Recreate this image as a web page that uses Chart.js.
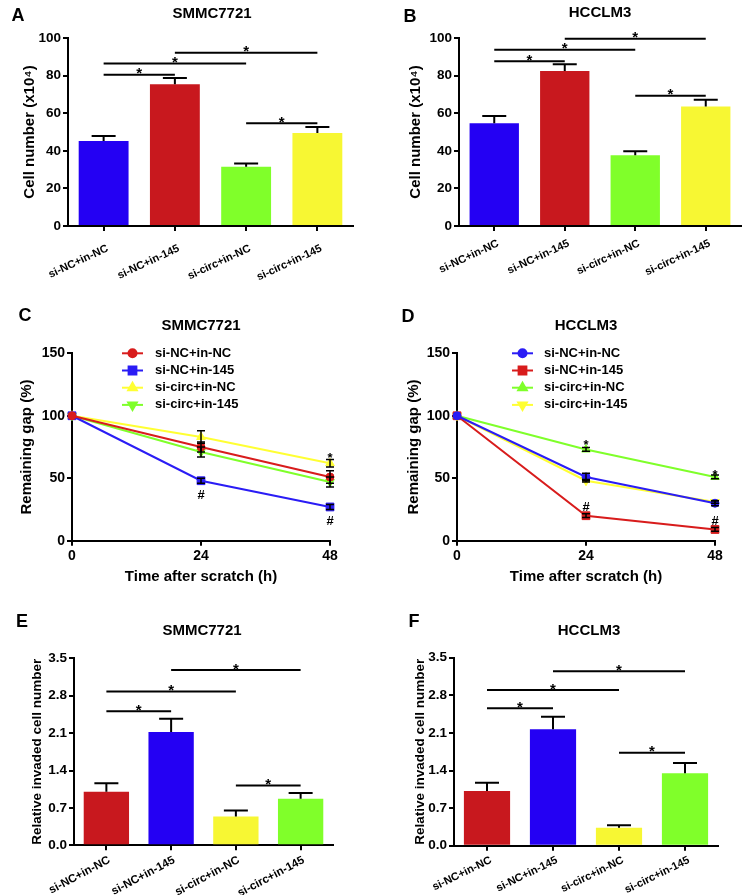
<!DOCTYPE html>
<html lang="en">
<head>
<meta charset="UTF-8">
<title>circRNA knockdown and miR-145 inhibition</title>
<script src="https://cdn.jsdelivr.net/npm/chart.js"></script>
<style>
  body { margin: 0; background: #fff; font-family: 'Liberation Sans', Arial, sans-serif; }
  .fig { position: relative; width: 744px; height: 895px; }
  .panel { position: absolute; }
  .tag, .ttl {
    position: absolute; font-weight: bold; line-height: 1; color: #000;
    transform: translate(-50%, -50%); white-space: nowrap;
  }
  .tag { font-size: 18px; }
  .ttl { font-size: 15px; }
</style>
</head>
<body>
<div class="fig">
  <canvas id="chartA" class="panel" width="372" height="290" style="left:0;top:0"></canvas>
  <canvas id="chartB" class="panel" width="372" height="290" style="left:372px;top:0"></canvas>
  <canvas id="chartC" class="panel" width="372" height="300" style="left:0;top:290px"></canvas>
  <canvas id="chartD" class="panel" width="372" height="300" style="left:372px;top:290px"></canvas>
  <canvas id="chartE" class="panel" width="372" height="305" style="left:0;top:590px"></canvas>
  <canvas id="chartF" class="panel" width="372" height="305" style="left:372px;top:590px"></canvas>

  <div class="tag" style="left:18px;top:15px">A</div>
  <div class="ttl" style="left:212px;top:12px">SMMC7721</div>
  <div class="tag" style="left:410px;top:16px">B</div>
  <div class="ttl" style="left:600px;top:11px">HCCLM3</div>
  <div class="tag" style="left:25px;top:315px">C</div>
  <div class="ttl" style="left:201px;top:324px">SMMC7721</div>
  <div class="tag" style="left:408px;top:316px">D</div>
  <div class="ttl" style="left:586px;top:324px">HCCLM3</div>
  <div class="tag" style="left:22px;top:621px">E</div>
  <div class="ttl" style="left:202px;top:629px">SMMC7721</div>
  <div class="tag" style="left:414px;top:621px">F</div>
  <div class="ttl" style="left:589px;top:629px">HCCLM3</div>
</div>

<script>
  const groups = ['si-NC+in-NC', 'si-NC+in-145', 'si-circ+in-NC', 'si-circ+in-145'];

  // A / B: cell number (x10^4), mean and upper error
  const countSmmc = [45.2, 75.4, 31.5, 49.5];
  const countSmmcErr = [2.7, 3.3, 1.8, 3.2];
  const countSmmcSig = [[0, 1, 80.5], [0, 2, 86.5], [1, 3, 92.2], [2, 3, 54.6]];
  const countHcc = [54.6, 82.4, 37.6, 63.5];
  const countHccErr = [3.9, 3.6, 2.1, 3.7];
  const countHccSig = [[0, 1, 87.6], [0, 2, 93.8], [1, 3, 99.6], [2, 3, 69.3]];

  // C / D: remaining gap (%) after scratch
  const hours = [0, 24, 48];
  const gapSmmcNcNc = [100, 75, 51];
  const gapSmmcNcNcErr = [0, 4, 5];
  const gapSmmcNc145 = [100, 48, 27];
  const gapSmmcNc145Err = [0, 2, 2];
  const gapSmmcCircNc = [100, 83, 62];
  const gapSmmcCircNcErr = [0, 5, 3];
  const gapSmmcCirc145 = [100, 71, 47];
  const gapSmmcCirc145Err = [0, 4, 4];
  const gapSmmcMarks = [[24, 37.4, '#'], [48, 16.6, '#'], [48, 69.4, '*']];

  const gapHccNcNc = [100, 51, 30];
  const gapHccNcNcErr = [0, 3, 2];
  const gapHccNc145 = [100, 20, 9];
  const gapHccNc145Err = [0, 1.5, 1.5];
  const gapHccCircNc = [100, 73, 51];
  const gapHccCircNcErr = [0, 1.5, 1.5];
  const gapHccCirc145 = [100, 48, 31];
  const gapHccCirc145Err = [0, 1, 1];
  const gapHccMarks = [[24, 79.3, '*'], [48, 55.8, '*'], [24, 27.8, '#'], [48, 16, '#']];

  // E / F: relative invaded cell number
  const invSmmc = [1.0, 2.12, 0.54, 0.87];
  const invSmmcErr = [0.16, 0.25, 0.11, 0.11];
  const invSmmcSig = [[0, 1, 2.51], [0, 2, 2.88], [1, 3, 3.28], [2, 3, 1.12]];
  const invHcc = [1.02, 2.17, 0.335, 1.35];
  const invHccErr = [0.15, 0.23, 0.045, 0.19];
  const invHccSig = [[0, 1, 2.56], [0, 2, 2.9], [1, 3, 3.25], [2, 3, 1.73]];

  const BLUE = '#2400f3', RED = '#c8181e', GREEN = '#80ff2a', YELLOW = '#f7f733';
  const LBLUE = '#2a1cf5', LRED = '#d81c1c', LGREEN = '#7fff2a', LYELLOW = '#ffff33';
  const FONT = "'Liberation Sans', Arial, sans-serif";

  Chart.defaults.font.family = FONT;
  Chart.defaults.color = '#000';

  // glyph centre offset (em) above the baseline
  const glyphMid = { '*': 0.58, '#': 0.36 };

  const extras = {
    id: 'extras',
    afterDatasetsDraw(chart, args, o) {
      const ctx = chart.ctx, xs = chart.scales.x, ys = chart.scales.y;
      ctx.save();
      ctx.strokeStyle = '#000';
      ctx.fillStyle = '#000';
      ctx.textAlign = 'center';
      ctx.textBaseline = 'alphabetic';

      // bar error bars (upper half only)
      if (o.errors) {
        const vals = chart.data.datasets[0].data;
        ctx.lineWidth = 2;
        o.errors.forEach((e, i) => {
          const x = xs.getPixelForValue(i);
          const y0 = ys.getPixelForValue(vals[i]);
          const y1 = ys.getPixelForValue(vals[i] + e);
          ctx.beginPath();
          ctx.moveTo(x, y0); ctx.lineTo(x, y1);
          ctx.moveTo(x - o.cap, y1); ctx.lineTo(x + o.cap, y1);
          ctx.stroke();
        });
      }

      // line chart error bars (both sides)
      chart.data.datasets.forEach(ds => {
        if (!ds.errors) return;
        ctx.lineWidth = 1.5;
        ds.data.forEach((p, i) => {
          const e = ds.errors[i];
          if (!e) return;
          const x = xs.getPixelForValue(p.x);
          const yt = ys.getPixelForValue(p.y + e), yb = ys.getPixelForValue(p.y - e);
          ctx.beginPath();
          ctx.moveTo(x, yt); ctx.lineTo(x, yb);
          ctx.moveTo(x - 4, yt); ctx.lineTo(x + 4, yt);
          ctx.moveTo(x - 4, yb); ctx.lineTo(x + 4, yb);
          ctx.stroke();
        });
      });

      // significance brackets
      if (o.sig) {
        ctx.lineWidth = 2;
        ctx.font = 'bold 15px ' + FONT;
        o.sig.forEach(([a, b, v]) => {
          const xa = xs.getPixelForValue(a), xb = xs.getPixelForValue(b);
          const y = ys.getPixelForValue(v);
          ctx.beginPath();
          ctx.moveTo(xa, y); ctx.lineTo(xb, y);
          ctx.stroke();
          ctx.fillText('*', (xa + xb) / 2, y - 5 + 0.58 * 15);
        });
      }

      // point annotations
      if (o.marks) {
        ctx.font = 'bold 13px ' + FONT;
        o.marks.forEach(([xv, v, s]) => {
          ctx.fillText(s, xs.getPixelForValue(xv), ys.getPixelForValue(v) + glyphMid[s] * 13);
        });
      }

      // legend with line + marker
      if (o.key) {
        const k = o.key;
        ctx.font = 'bold 13px ' + FONT;
        ctx.textAlign = 'left';
        ctx.textBaseline = 'middle';
        chart.data.datasets.forEach((ds, i) => {
          const y = k.top + i * k.step;
          ctx.strokeStyle = ds.borderColor;
          ctx.fillStyle = ds.backgroundColor;
          ctx.lineWidth = 2;
          ctx.beginPath();
          ctx.moveTo(k.x, y); ctx.lineTo(k.x + k.len, y);
          ctx.stroke();
          Chart.helpers.drawPoint(ctx, {
            pointStyle: ds.pointStyle, rotation: ds.pointRotation || 0,
            radius: ds.pointRadius, borderWidth: 1
          }, k.x + k.len / 2, y);
          ctx.fillStyle = '#000';
          ctx.fillText(ds.label, k.x + k.len + k.gap, y);
        });
      }
      ctx.restore();
    }
  };

  function axisStyle(size) {
    return {
      border: { display: true, color: '#000', width: 2 },
      grid: { drawOnChartArea: false, color: '#000', lineWidth: 2, tickLength: 5, offset: false },
      ticks: { color: '#000', font: { size: size, weight: 'bold' }, padding: 2 }
    };
  }

  function barChart(id, colors, values, errors, sig, cfg) {
    const cv = document.getElementById(id);
    const xAxis = axisStyle(cfg.xFont);
    Object.assign(xAxis.ticks, {
      minRotation: cfg.rot, maxRotation: cfg.rot, autoSkip: false,
      padding: cfg.xPad, labelOffset: cfg.xShift
    });
    xAxis.afterFit = s => { s.height = cv.height - cfg.bottom; };
    const yAxis = axisStyle(13.5);
    Object.assign(yAxis, { min: 0, max: cfg.max });
    Object.assign(yAxis.ticks, { stepSize: cfg.step, callback: v => cfg.dec ? v.toFixed(1) : v });
    yAxis.title = {
      display: true, text: cfg.yTitle, color: '#000',
      font: { size: cfg.yTitleSize, weight: 'bold' },
      padding: { top: cfg.yTitleX - cfg.yTitleSize * 0.6, bottom: 0 }
    };
    yAxis.afterFit = s => { s.width = cfg.left; };

    new Chart(cv, {
      type: 'bar',
      data: {
        labels: groups,
        datasets: [{ data: values, backgroundColor: colors, borderWidth: 0, categoryPercentage: 1, barPercentage: 0.7 }]
      },
      options: {
        responsive: false, animation: false, devicePixelRatio: 1,
        layout: { padding: { left: 0, top: cfg.top, right: cv.width - cfg.right, bottom: 0 } },
        plugins: {
          legend: { display: false }, tooltip: { enabled: false },
          extras: { errors: errors, sig: sig, cap: 12 }
        },
        scales: { x: xAxis, y: yAxis }
      },
      plugins: [extras]
    });
  }

  function lineChart(id, series, marks, cfg) {
    const cv = document.getElementById(id);
    const xAxis = axisStyle(14);
    Object.assign(xAxis, { type: 'linear', min: 0, max: 48 });
    Object.assign(xAxis.ticks, { stepSize: 24, padding: 2 });
    xAxis.title = {
      display: true, text: 'Time after scratch (h)', color: '#000',
      font: { size: 15, weight: 'bold' }, padding: { top: 0, bottom: 4 }
    };
    xAxis.afterFit = s => { s.height = cv.height - cfg.bottom; };
    const yAxis = axisStyle(14);
    Object.assign(yAxis, { min: 0, max: 150 });
    Object.assign(yAxis.ticks, { stepSize: 50 });
    yAxis.title = {
      display: true, text: 'Remaining gap (%)', color: '#000',
      font: { size: 15, weight: 'bold' }, padding: { top: cfg.yTitleX - 9, bottom: 0 }
    };
    yAxis.afterFit = s => { s.width = cfg.left; };

    const datasets = series.map(s => ({
      label: s.label,
      data: hours.map((h, i) => ({ x: h, y: s.values[i] })),
      errors: s.errors,
      borderColor: s.color, backgroundColor: s.color,
      borderWidth: 2, pointStyle: s.style, pointRotation: s.rotation || 0,
      pointRadius: s.radius, pointBorderWidth: 1, tension: 0, clip: false
    }));

    new Chart(cv, {
      type: 'line',
      data: { datasets },
      options: {
        responsive: false, animation: false, devicePixelRatio: 1,
        layout: { padding: { left: 0, top: cfg.top, right: cv.width - cfg.right, bottom: 0 } },
        plugins: {
          legend: { display: false }, tooltip: { enabled: false },
          extras: { marks: marks, key: cfg.key }
        },
        scales: { x: xAxis, y: yAxis }
      },
      plugins: [extras]
    });
  }

  const countTitle = 'Cell number (x10\u2074)';
  barChart('chartA', [BLUE, RED, GREEN, YELLOW], countSmmc, countSmmcErr, countSmmcSig,
    { left: 68, right: 353, top: 38, bottom: 226, max: 100, step: 20, yTitle: countTitle, yTitleSize: 15, yTitleX: 30,
      xFont: 11, rot: 25, xPad: 11, xShift: 4 });
  barChart('chartB', [BLUE, RED, GREEN, YELLOW], countHcc, countHccErr, countHccSig,
    { left: 87, right: 369, top: 38, bottom: 226, max: 100, step: 20, yTitle: countTitle, yTitleSize: 15, yTitleX: 43.5,
      xFont: 11, rot: 25, xPad: 6, xShift: 4 });

  lineChart('chartC', [
    { label: 'si-NC+in-NC', values: gapSmmcNcNc, errors: gapSmmcNcNcErr, color: LRED, style: 'circle', radius: 4 },
    { label: 'si-NC+in-145', values: gapSmmcNc145, errors: gapSmmcNc145Err, color: LBLUE, style: 'rect', radius: 5.5 },
    { label: 'si-circ+in-NC', values: gapSmmcCircNc, errors: gapSmmcCircNcErr, color: LYELLOW, style: 'triangle', radius: 5 },
    { label: 'si-circ+in-145', values: gapSmmcCirc145, errors: gapSmmcCirc145Err, color: LGREEN, style: 'triangle', rotation: 180, radius: 5 }
  ], gapSmmcMarks, { left: 72, right: 330, top: 63.3, bottom: 250.7, yTitleX: 27, key: { x: 122, top: 63.3, step: 17.2, len: 21, gap: 12 } });

  lineChart('chartD', [
    { label: 'si-NC+in-NC', values: gapHccNcNc, errors: gapHccNcNcErr, color: LBLUE, style: 'circle', radius: 4 },
    { label: 'si-NC+in-145', values: gapHccNc145, errors: gapHccNc145Err, color: LRED, style: 'rect', radius: 5.5 },
    { label: 'si-circ+in-NC', values: gapHccCircNc, errors: gapHccCircNcErr, color: LGREEN, style: 'triangle', radius: 5 },
    { label: 'si-circ+in-145', values: gapHccCirc145, errors: gapHccCirc145Err, color: LYELLOW, style: 'triangle', rotation: 180, radius: 5 }
  ], gapHccMarks, { left: 85, right: 343, top: 63.3, bottom: 250.7, yTitleX: 41.5, key: { x: 140, top: 63.3, step: 17.2, len: 21, gap: 11 } });

  const invTitle = 'Relative invaded cell number';
  barChart('chartE', [RED, BLUE, YELLOW, GREEN], invSmmc, invSmmcErr, invSmmcSig,
    { left: 74, right: 333, top: 68.3, bottom: 255.3, max: 3.5, step: 0.7, dec: true, yTitle: invTitle, yTitleSize: 13.5, yTitleX: 37,
      xFont: 11.5, rot: 28, xPad: 3, xShift: 3 });
  barChart('chartF', [RED, BLUE, YELLOW, GREEN], invHcc, invHccErr, invHccSig,
    { left: 82, right: 346, top: 67.7, bottom: 255.7, max: 3.5, step: 0.7, dec: true, yTitle: invTitle, yTitleSize: 13.5, yTitleX: 48,
      xFont: 11, rot: 26, xPad: 3, xShift: 4 });
</script>
</body>
</html>
